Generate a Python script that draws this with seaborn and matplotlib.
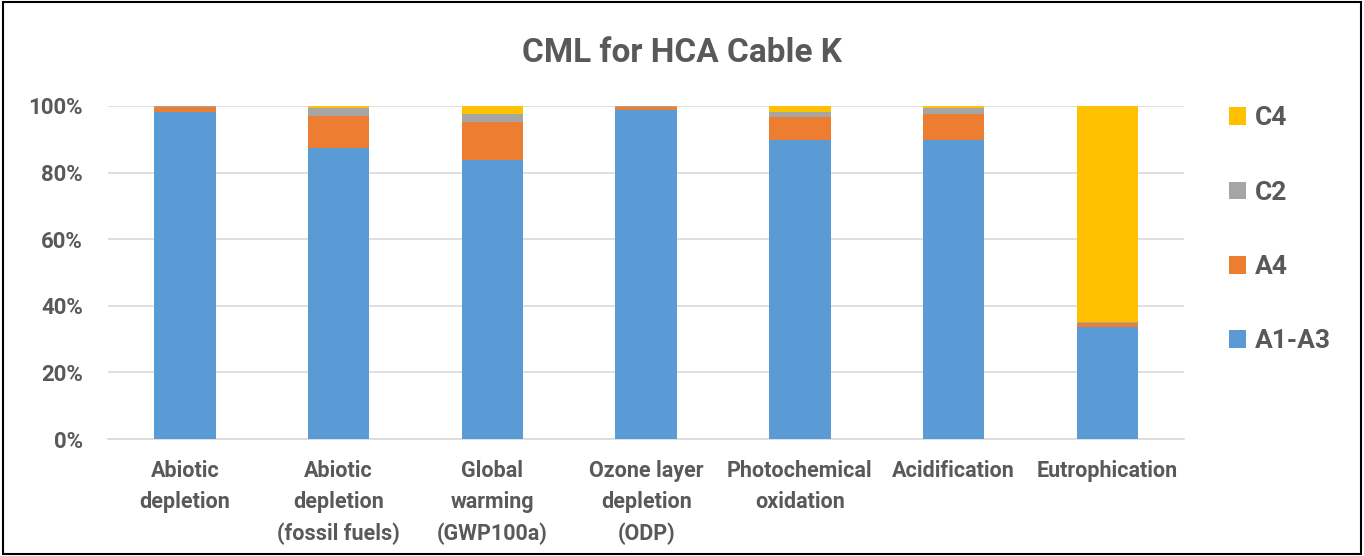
import numpy as np
import pandas as pd
import matplotlib
matplotlib.use("Agg")
import matplotlib.pyplot as plt
import seaborn as sns
from matplotlib.patches import Patch, Rectangle

categories = ["Abiotic\ndepletion", "Abiotic\ndepletion\n(fossil fuels)", "Global\nwarming\n(GWP100a)",
              "Ozone layer\ndepletion\n(ODP)", "Photochemical\noxidation", "Acidification", "Eutrophication"]
a1_a3 = [98.3, 87.3, 83.8, 98.8, 89.7, 89.7, 33.5]
a4 = [1.5, 9.8, 11.3, 0.9, 7.0, 8.0, 1.2]
c2 = [0.1, 2.4, 2.6, 0.2, 1.6, 1.8, 0.5]
c4 = [0.1, 0.5, 2.3, 0.1, 1.7, 0.5, 64.8]
series_names = ["A1-A3", "A4", "C2", "C4"]
colors = ["#5B9BD5", "#ED7D31", "#A5A5A5", "#FFC000"]

sns.set_theme(style="white")
plt.rcParams['font.family'] = ['Roboto', 'DejaVu Sans']
text_col = "#595959"

fig = plt.figure(figsize=(13.64, 5.56), dpi=100)
ax = fig.add_axes([0.0792, 0.2104, 0.789, 0.5990])

series = [a1_a3, a4, c2, c4]
bottom = np.zeros(len(categories))
for name, vals, col in zip(series_names, series, colors):
    df = pd.DataFrame({"cat": categories, "val": vals})
    sns.barplot(data=df, x="cat", y="val", bottom=bottom, color=col, width=0.4,
                ax=ax, saturation=1, linewidth=0, zorder=3)
    bottom = bottom + np.array(vals)

ax.set_ylim(0, 100)
ax.set_xlim(-0.5, len(categories) - 0.5)
ax.set_yticks(np.arange(0, 101, 20))
ax.set_yticklabels([f"{v}%" for v in range(0, 101, 20)], fontsize=16, fontweight="bold", color=text_col)
ax.set_xticks(range(len(categories)))
ax.set_xticklabels(categories, fontsize=15.5, fontweight="bold", color=text_col, linespacing=1.55)
ax.tick_params(axis="x", length=0, pad=15)
ax.tick_params(axis="y", length=0, pad=18)
ax.set_xlabel("")
ax.set_ylabel("")
ax.yaxis.grid(True, color="#D9D9D9", linewidth=1.2, zorder=0)
ax.set_axisbelow(True)
for s in ["top", "right", "left"]:
    ax.spines[s].set_visible(False)
ax.spines["bottom"].set_color("#D9D9D9")
ax.spines["bottom"].set_linewidth(1.2)

fig.text(0.5, 0.905, "CML for HCA Cable K", ha="center", va="center",
         fontsize=24, fontweight="bold", color=text_col)

handles = [Patch(facecolor=c, edgecolor="none") for c in colors][::-1]
labels = series_names[::-1]
leg = fig.legend(handles, labels, loc="upper left", bbox_to_anchor=(0.893, 0.828),
                 frameon=False, prop={"size": 19, "weight": "bold"}, labelspacing=1.91,
                 handlelength=0.65, handleheight=0.65, handletextpad=0.35, borderaxespad=0)
for t in leg.get_texts():
    t.set_color(text_col)

fig.patches.append(Rectangle((0.002, 0.003), 0.996, 0.994, transform=fig.transFigure,
                             fill=False, edgecolor="black", linewidth=1.5))

fig.savefig("out.png", dpi=100)
